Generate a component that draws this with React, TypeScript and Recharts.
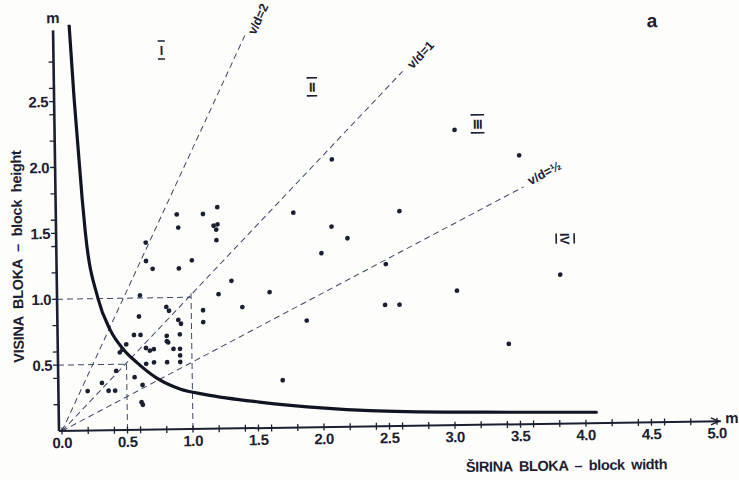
import React from 'react';
import { ComposedChart, Line, Scatter, XAxis, YAxis, ReferenceLine } from 'recharts';

// block sizes (m)
const blockWidth = [
  0.2, 0.31, 0.36, 0.41, 0.42, 0.56, 0.62, 0.61, 0.62, 0.47, 0.45, 0.5, 0.56, 0.61, 0.6, 0.65, 0.68, 0.71,
  0.65, 0.71, 0.81, 0.91, 0.81, 0.82, 0.86, 0.91, 0.91, 0.81, 0.91, 0.9, 0.92, 0.81, 0.83, 0.61, 1.09, 1.09,
  0.66, 0.66, 0.71, 0.9, 0.91, 0.91, 1.01, 1.1, 1.21, 1.18, 1.21, 1.2, 1.2, 2.09, 1.79, 2.08, 2.2, 2.0,
  2.6, 2.49, 2.48, 2.59, 1.31, 1.21, 1.39, 1.6, 1.88, 1.69, 3.03, 3.52, 3.03, 3.82, 3.42,
];
const blockHeight = [
  0.3, 0.36, 0.3, 0.3, 0.45, 0.4, 0.34, 0.21, 0.19, 0.61, 0.59, 0.65, 0.72, 0.72, 0.86, 0.62, 0.6, 0.61,
  0.5, 0.51, 0.51, 0.51, 0.67, 0.66, 0.61, 0.61, 0.56, 0.71, 0.72, 0.83, 0.8, 0.93, 0.9, 1.02, 0.9, 0.81,
  1.42, 1.28, 1.22, 1.63, 1.53, 1.22, 1.28, 1.63, 1.68, 1.54, 1.55, 1.51, 1.43, 2.03, 1.63, 1.52, 1.43, 1.32,
  1.63, 1.23, 0.92, 0.92, 1.12, 1.02, 0.92, 1.03, 0.81, 0.36, 2.24, 2.04, 1.02, 1.13, 0.61,
];

// limit curve
const curveWidth = [0.1, 0.13, 0.18, 0.2, 0.29, 0.38, 0.48, 0.58, 0.73, 0.905, 1.1, 1.51, 2.01, 2.35, 3.22, 4.08];
const curveHeight = [3.08, 2.52, 1.76, 1.51, 1.0, 0.76, 0.61, 0.51, 0.39, 0.305, 0.26, 0.197, 0.144, 0.12, 0.095, 0.082];

const xLabelTicks = [0, 0.5, 1, 1.5, 2, 2.5, 3, 3.5, 4, 4.5, 5];
const xMinorTicks = [0.2, 0.4, 0.6, 0.8, 1.2, 1.4, 1.6, 1.8, 2.2, 2.4, 2.6, 2.8, 3.2, 3.4, 3.6, 3.8, 4.2, 4.4, 4.6, 4.8];
const yLabelTicks = [0.5, 1, 1.5, 2, 2.5];
const yMinorTicks = [0.2, 0.4, 0.6, 0.8, 1.2, 1.4, 1.6, 1.8, 2.2, 2.4, 2.6, 2.8];

// v/d ratio lines from the origin
const ratioNames = ['v/d=2', 'v/d=1', 'v/d=½'];
const ratioEndX = [1.44, 2.64, 3.55];
const ratioEndY = [2.98, 2.69, 1.8];

const guideSizes = [0.5, 1.0];
const zoneNames = ['I', 'II', 'III', 'IV'];

const points = blockWidth.map((x, i) => ({ x, y: blockHeight[i] }));
const curve = curveWidth.map((x, i) => ({ x, y: curveHeight[i] }));
const xTicks = [...xLabelTicks, ...xMinorTicks].sort((a, b) => a - b);
const yTicks = [...yLabelTicks, ...yMinorTicks].sort((a, b) => a - b);

const INK = '#1b2030';
const DASH = '#3d4763';
const X_MIN = -0.023;
const SANS = '"Liberation Sans", Arial, sans-serif';

const XTick = ({ x, y, payload }: any) => {
  const v = payload.value;
  return (
    <g>
      <line x1={x} x2={x} y1={y - 3.5} y2={y + 3.5} stroke={INK} strokeWidth={1.3} />
      {xLabelTicks.includes(v) && (
        <text x={x} y={y + 17} textAnchor="middle" fontFamily={SANS} fontWeight="bold" fontSize={15} letterSpacing={-0.4} fill={INK}>
          {v.toFixed(1)}
        </text>
      )}
    </g>
  );
};

const YTick = ({ x, y, payload }: any) => {
  const v = payload.value;
  return (
    <g>
      <line x1={x - 5} x2={x} y1={y} y2={y} stroke={INK} strokeWidth={1.3} />
      {yLabelTicks.includes(v) && (
        <text x={x - 6} y={y + 5.5} textAnchor="end" fontFamily={SANS} fontWeight="bold" fontSize={15} letterSpacing={-0.4} fill={INK}>
          {v.toFixed(1)}
        </text>
      )}
    </g>
  );
};

const Dot = (props: any) => <circle cx={props.cx} cy={props.cy} r={2.4} fill={INK} />;

const Zone = ({ x, y, name, turn }: any) => {
  const w = name.length * 3.2 + 4;
  return (
    <g transform={`translate(${x} ${y}) rotate(${turn ? 90 : 0})`}>
      <line x1={-w / 2} x2={w / 2} y1={-9} y2={-9} stroke={INK} strokeWidth={1.6} />
      <line x1={-w / 2} x2={w / 2} y1={9} y2={9} stroke={INK} strokeWidth={1.6} />
      <text x={0} y={5} textAnchor="middle" fontFamily={SANS} fontWeight="bold" fontSize={13} letterSpacing={-0.5} fill={INK}>
        {name}
      </text>
    </g>
  );
};

const App = () => {
  const zonePos = [[167, 51.5, false], [317, 90.5, false], [482, 130, false], [568, 246, true]];
  const ratioPos = [[264, 22, -64.4], [426, 60, -45.7], [548, 180, -27]];
  return (
    <div style={{ position: 'absolute', left: 0, top: 0, width: 739, height: 480, background: '#fdfdfb' }}>
      <div style={{ position: 'absolute', left: 0, top: 0, width: 739, height: 480, transform: 'rotate(-0.85deg)', transformOrigin: '62px 431px' }}>
        <ComposedChart width={739} height={480} margin={{ top: 25, right: 15.4, bottom: 0, left: 0 }}>
          <XAxis type="number" dataKey="x" domain={[X_MIN, 5.05]} ticks={xTicks} interval={0} tick={<XTick />}
            tickSize={0} tickMargin={0} axisLine={false} tickLine={false} height={49} allowDataOverflow />
          <YAxis type="number" dataKey="y" domain={[0, 3.08]} ticks={yTicks} interval={0} tick={<YTick />}
            tickSize={0} tickMargin={0} axisLine={false} tickLine={false} width={59} allowDataOverflow />
          {guideSizes.map((s) => (
            <ReferenceLine key={`h${s}`} segment={[{ x: X_MIN, y: s }, { x: s, y: s }]} stroke={DASH} strokeWidth={1} strokeDasharray="6 4" ifOverflow="visible" />
          ))}
          {guideSizes.map((s) => (
            <ReferenceLine key={`v${s}`} segment={[{ x: s, y: 0 }, { x: s, y: s + 0.03 }]} stroke={DASH} strokeWidth={1} strokeDasharray="6 4" ifOverflow="visible" />
          ))}
          {ratioNames.map((n, i) => (
            <ReferenceLine key={n} segment={[{ x: 0, y: 0 }, { x: ratioEndX[i], y: ratioEndY[i] }]} stroke={DASH} strokeWidth={1} strokeDasharray="6 4" ifOverflow="visible" />
          ))}
          <ReferenceLine segment={[{ x: X_MIN, y: 0 }, { x: X_MIN, y: 3.04 }]} stroke={INK} strokeWidth={2.6} ifOverflow="visible" />
          <ReferenceLine segment={[{ x: X_MIN, y: 0 }, { x: 5.03, y: 0 }]} stroke={INK} strokeWidth={2} ifOverflow="visible" />
          <Line data={curve} dataKey="y" type="monotone" dot={false} stroke="#111522" strokeWidth={3.2} strokeLinecap="round" isAnimationActive={false} />
          <Scatter data={points} dataKey="y" shape={<Dot />} isAnimationActive={false} />
        </ComposedChart>
        <svg width={739} height={480} style={{ position: 'absolute', left: 0, top: 0, pointerEvents: 'none' }}>
          <path d="M 711 427.5 L 719 431 L 711 434.5" fill="none" stroke={INK} strokeWidth={1.4} />
          <text x={59} y={23} textAnchor="middle" fontFamily={SANS} fontWeight="bold" fontSize={15} fill={INK}>m</text>
          <text x={732} y={433} textAnchor="middle" fontFamily={SANS} fontWeight="bold" fontSize={15} fill={INK}>m</text>
          <text x={658} y={36} textAnchor="middle" fontFamily={SANS} fontWeight="bold" fontSize={19} fill={INK}>a</text>
          <text x={566} y={478} textAnchor="middle" fontFamily={SANS} fontWeight="bold" fontSize={14.5} letterSpacing={-0.4} wordSpacing={3} fill={INK}>
            ŠIRINA BLOKA – block width
          </text>
          <text x={25} y={256} transform="rotate(-90 25 256)" textAnchor="middle" fontFamily={SANS} fontWeight="bold" fontSize={14.5} letterSpacing={-0.3} wordSpacing={4} fill={INK}>
            VISINA BLOKA – block height
          </text>
          {zoneNames.map((n, i) => (
            <Zone key={n} x={zonePos[i][0]} y={zonePos[i][1]} name={n} turn={zonePos[i][2]} />
          ))}
          {ratioNames.map((n, i) => (
            <text key={n} transform={`translate(${ratioPos[i][0]} ${ratioPos[i][1]}) rotate(${ratioPos[i][2]})`} y={4.5}
              textAnchor="middle" fontFamily={SANS} fontWeight="bold" fontSize={12.5} fill={INK}>
              {n}
            </text>
          ))}
        </svg>
      </div>
    </div>
  );
};

export default App;
